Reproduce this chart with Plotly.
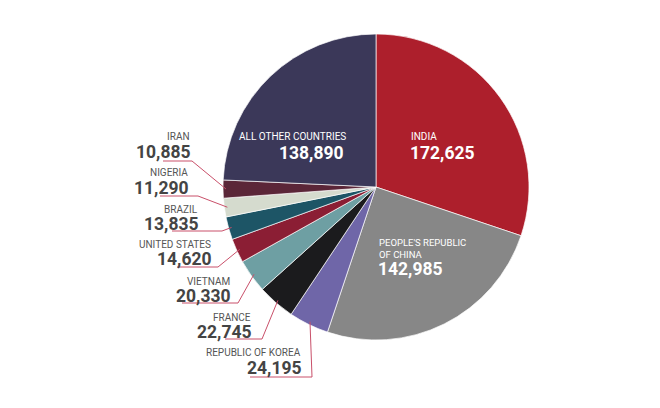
import math
import plotly.graph_objects as go

# ---- data ----
countries = ["INDIA", "PEOPLE'S REPUBLIC OF CHINA", "REPUBLIC OF KOREA", "FRANCE",
             "VIETNAM", "UNITED STATES", "BRAZIL", "NIGERIA", "IRAN", "ALL OTHER COUNTRIES"]
students = [172625, 142985, 24195, 22745, 20330, 14620, 13835, 11290, 10885, 138890]
colors = ["#AD1F2C", "#878787", "#6F66A8", "#1B1B1D", "#6E9FA3",
          "#8B1E34", "#1D5566", "#D5DBCE", "#5B2638", "#3B3859"]

# ---- layout (pixels, as seen in the window; page body adds an 8px offset) ----
W, H = 660, 408
OFF = 8
CX, CY, R = 376, 187, 153

def px(x):
    return (x - OFF) / W

def py(y):
    return 1 - (y - OFF) / H

fig = go.Figure(go.Pie(
    labels=countries, values=students, sort=False, direction="clockwise", rotation=0,
    marker=dict(colors=colors, line=dict(color="rgba(255,255,255,0.85)", width=0.8)),
    textinfo="none", hoverinfo="label+value", showlegend=False,
    domain=dict(x=[px(CX - R), px(CX + R)], y=[py(CY + R), py(CY - R)]),
))

total = sum(students)
cum = 0
mids = {}
for c, v in zip(countries, students):
    mids[c] = (cum + v / 2) / total * 2 * math.pi
    cum += v

NAME_FONT = dict(family="Roboto, Arial", size=10, color="#555555")
NUM_FONT = dict(family="Roboto, Arial", size=17.5, color="#444444", weight="bold")
LINE_COLOR = "#C9506A"

# outer label placement: name -> (text right x, name y, number y, underline y, underline left x, underline right x)
outer = {
    "IRAN": (192, 136, 151.5, 161, 163, 192),
    "NIGERIA": (190, 172, 187.5, 196, 160, 198),
    "BRAZIL": (200, 209, 223.5, 231, 172, 222),
    "UNITED STATES": (213, 244, 259, 267, 177, 218),
    "VIETNAM": (232, 281, 295.5, 303, 182, 238),
    "FRANCE": (253, 317, 331.5, 339, 225, 262),
    "REPUBLIC OF KOREA": (303, 352, 367.5, 377, 250, 312),
}

ann = []
shapes = []
for c, v in zip(countries, students):
    if c not in outer:
        continue
    xt, yn, yv, yu, xl, xr = outer[c]
    ann.append(dict(x=px(xt), y=py(yn), xref="paper", yref="paper", text=c, showarrow=False,
                    xanchor="right", yanchor="middle", font=NAME_FONT))
    ann.append(dict(x=px(xt + 1), y=py(yv), xref="paper", yref="paper", text=f"{v:,}", showarrow=False,
                    xanchor="right", yanchor="middle", font=NUM_FONT))
    a = mids[c]
    ex = CX + (R - 3) * math.sin(a)
    ey = CY - (R - 3) * math.cos(a)
    path = f"M {px(xl)} {py(yu)} L {px(xr)} {py(yu)} L {px(ex)} {py(ey)}"
    shapes.append(dict(type="path", xref="paper", yref="paper", path=path,
                       line=dict(color=LINE_COLOR, width=1)))

WHITE_NAME = dict(family="Roboto, Arial", size=10, color="white")
WHITE_SMALL = dict(family="Roboto, Arial", size=9.5, color="white")
WHITE_NUM = dict(family="Roboto, Arial", size=17.5, color="white", weight="bold")
val = dict(zip(countries, students))

inner = [
    dict(x=px(409), y=py(136), text="INDIA", xanchor="left", font=WHITE_NAME),
    dict(x=px(408), y=py(152.5), text=f"{val['INDIA']:,}", xanchor="left", font=WHITE_NUM),
    dict(x=px(377), y=py(242.5), text="PEOPLE'S REPUBLIC", xanchor="left", font=WHITE_SMALL),
    dict(x=px(377), y=py(254), text="OF CHINA", xanchor="left", font=WHITE_SMALL),
    dict(x=px(376), y=py(269), text=f"{val[countries[1]]:,}", xanchor="left", font=WHITE_NUM),
    dict(x=px(348), y=py(136), text="ALL OTHER COUNTRIES", xanchor="right", font=WHITE_NAME),
    dict(x=px(346), y=py(152.5), text=f"{val['ALL OTHER COUNTRIES']:,}", xanchor="right", font=WHITE_NUM),
]
for a_ in inner:
    a_.update(xref="paper", yref="paper", showarrow=False, yanchor="middle")
ann += inner

fig.update_layout(
    width=W, height=H, margin=dict(l=0, r=0, t=0, b=0),
    paper_bgcolor="white", plot_bgcolor="white",
    annotations=ann, shapes=shapes,
)

fig.write_html("out.html")
